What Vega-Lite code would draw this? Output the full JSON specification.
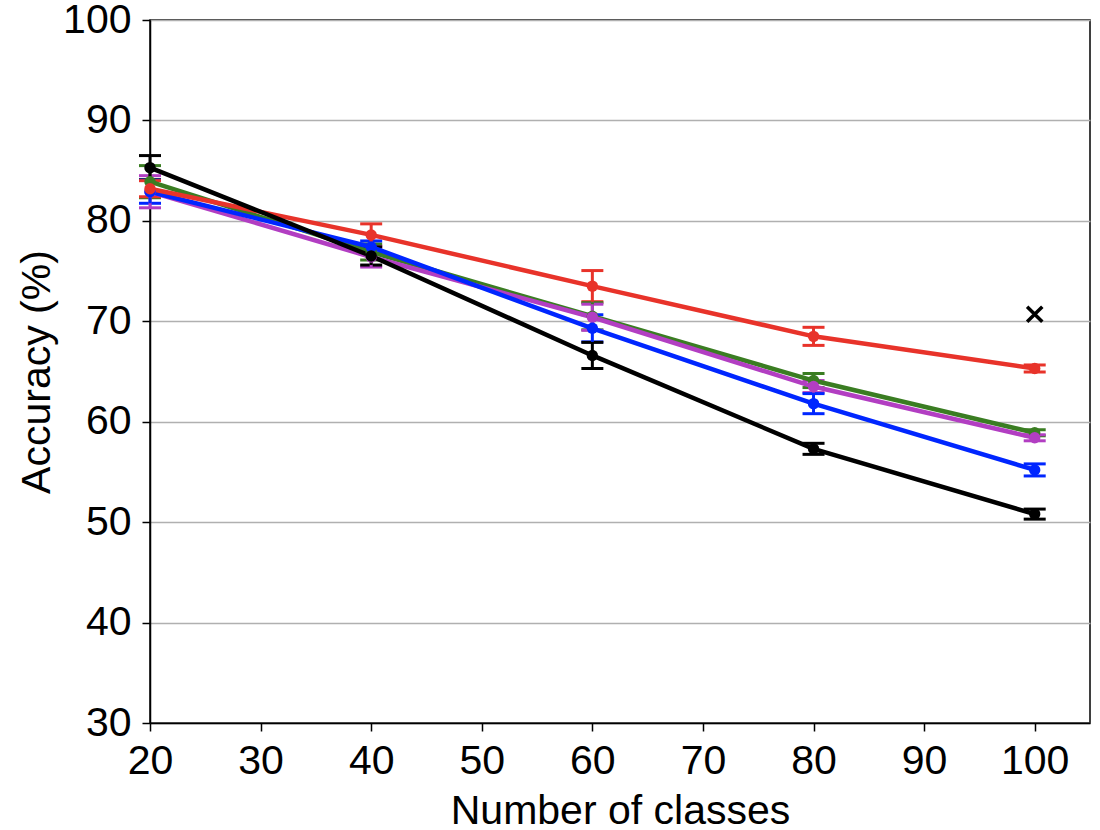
{
  "$schema": "https://vega.github.io/schema/vega-lite/v6.json",
  "description": "Accuracy against number of classes, five methods with error bars",
  "width": 940,
  "height": 703,
  "autosize": {"type": "none"},
  "padding": {"left": 150, "top": 20, "right": 10, "bottom": 107},
  "data": {
    "values": [
      {"method": "green", "classes": 20, "acc": 83.9, "err": 1.6},
      {"method": "green", "classes": 40, "acc": 76.9, "err": 0.8},
      {"method": "green", "classes": 60, "acc": 70.5, "err": 1.35},
      {"method": "green", "classes": 80, "acc": 64.1, "err": 0.7},
      {"method": "green", "classes": 100, "acc": 58.9, "err": 0.3},
      {"method": "purple", "classes": 20, "acc": 82.9, "err": 1.6},
      {"method": "purple", "classes": 40, "acc": 76.4, "err": 1.0},
      {"method": "purple", "classes": 60, "acc": 70.4, "err": 1.3},
      {"method": "purple", "classes": 80, "acc": 63.5, "err": 0.6},
      {"method": "purple", "classes": 100, "acc": 58.4, "err": 0.3},
      {"method": "blue", "classes": 20, "acc": 82.9, "err": 1.15},
      {"method": "blue", "classes": 40, "acc": 77.4, "err": 0.6},
      {"method": "blue", "classes": 60, "acc": 69.3, "err": 1.35},
      {"method": "blue", "classes": 80, "acc": 61.8, "err": 1.0},
      {"method": "blue", "classes": 100, "acc": 55.2, "err": 0.6},
      {"method": "red", "classes": 20, "acc": 83.2, "err": 0.8},
      {"method": "red", "classes": 40, "acc": 78.6, "err": 1.1},
      {"method": "red", "classes": 60, "acc": 73.5, "err": 1.55},
      {"method": "red", "classes": 80, "acc": 68.5, "err": 0.9},
      {"method": "red", "classes": 100, "acc": 65.3, "err": 0.35},
      {"method": "black", "classes": 20, "acc": 85.3, "err": 1.2},
      {"method": "black", "classes": 40, "acc": 76.5, "err": 0.9},
      {"method": "black", "classes": 60, "acc": 66.6, "err": 1.3},
      {"method": "black", "classes": 80, "acc": 57.3, "err": 0.55},
      {"method": "black", "classes": 100, "acc": 50.8, "err": 0.5}
    ]
  },
  "encoding": {
    "x": {
      "field": "classes",
      "type": "quantitative",
      "scale": {"domain": [20, 105], "nice": false, "zero": false},
      "axis": {
        "title": "Number of classes",
        "values": [20, 30, 40, 50, 60, 70, 80, 90, 100],
        "grid": false,
        "labelPadding": 10,
        "titlePadding": 10
      }
    },
    "y": {
      "field": "acc",
      "type": "quantitative",
      "scale": {"domain": [30, 100], "nice": false, "zero": false},
      "axis": {
        "title": "Accuracy (%)",
        "values": [30, 40, 50, 60, 70, 80, 90, 100],
        "grid": true,
        "labelPadding": 11,
        "titlePadding": 4
      }
    },
    "color": {
      "field": "method",
      "type": "nominal",
      "scale": {
        "domain": ["green", "purple", "blue", "red", "black"],
        "range": ["#3a7d22", "#b23ec2", "#0026ff", "#e8332a", "#000000"]
      },
      "legend": null
    }
  },
  "layer": [
    {
      "mark": {
        "type": "errorbar",
        "ticks": {"size": 22, "thickness": 3, "opacity": 1},
        "rule": {"strokeWidth": 3, "opacity": 1}
      },
      "encoding": {
        "yError": {"field": "err"}
      }
    },
    {
      "mark": {"type": "line", "strokeWidth": 4.5}
    },
    {
      "mark": {"type": "point", "filled": true, "size": 130, "opacity": 1}
    },
    {
      "data": {"values": [{"classes": 100, "acc": 70.7}]},
      "mark": {
        "type": "point",
        "shape": "M-1,-1L1,1M-1,1L1,-1",
        "filled": false,
        "stroke": "black",
        "strokeWidth": 3.5,
        "size": 230,
        "opacity": 1
      },
      "encoding": {"color": {"value": "black"}}
    }
  ],
  "config": {
    "font": "Liberation Sans",
    "view": {"stroke": "black", "strokeWidth": 1.5},
    "axis": {
      "labelFont": "Liberation Sans",
      "titleFont": "Liberation Sans",
      "labelFontSize": 41,
      "titleFontSize": 41,
      "titleFontWeight": "normal",
      "labelColor": "black",
      "titleColor": "black",
      "domainColor": "black",
      "domainWidth": 1.5,
      "tickColor": "black",
      "tickWidth": 1.5,
      "tickSize": 8,
      "gridColor": "#b0b0b0",
      "gridWidth": 1.5,
      "labelFlush": false,
      "labelOverlap": false
    }
  }
}
